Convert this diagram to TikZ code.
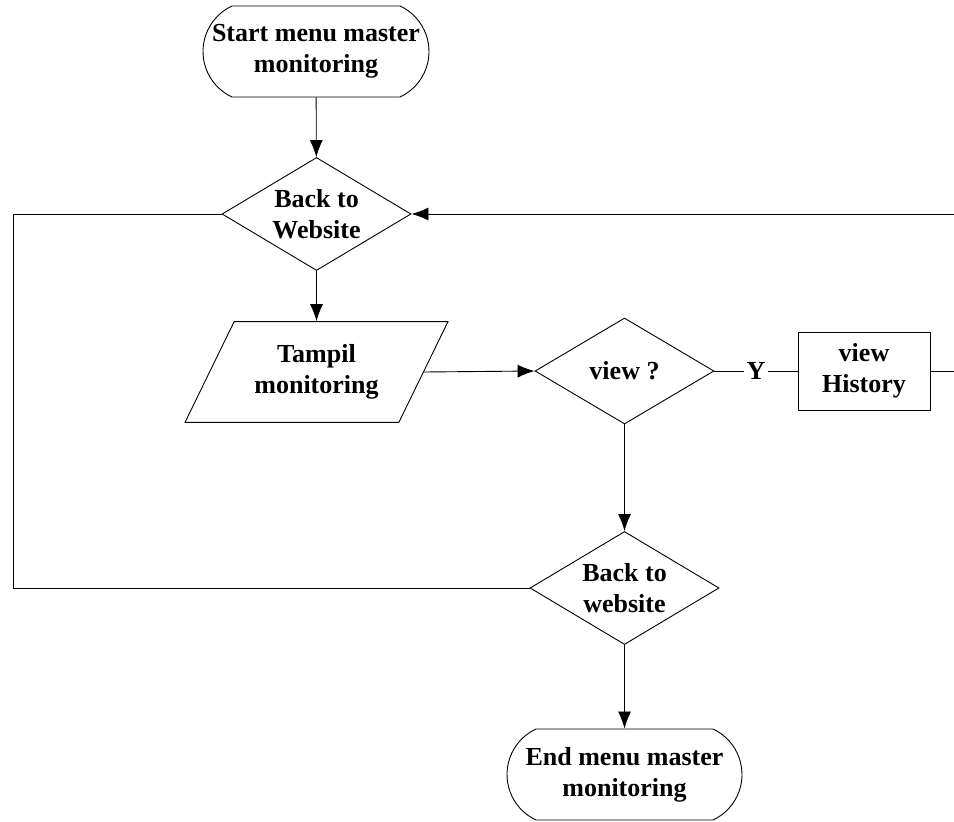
\documentclass[tikz,border=0pt]{standalone}
\usepackage{fontspec}
\setmainfont{Liberation Serif}
\usetikzlibrary{shapes.geometric, shapes.misc, arrows.meta}

\begin{document}
\begin{tikzpicture}
 		[
 		x=1pt, y=-1pt,
 		font=\fontsize{26}{31}\selectfont\bfseries,
 		line width=0.9pt,
 		>={Latex[length=17pt,width=13pt]}
 		]
 		
 		% Node styles: terminal, decision, input/output and process
 		\tikzstyle{terminal}=[rounded rectangle, rounded rectangle arc length=130, draw, minimum height=91pt, align=center, inner sep=0];
 		\tikzstyle{decision}=[diamond, draw, inner sep=0, minimum width=189pt, minimum height=113pt];
 		\tikzstyle{io}=[trapezium, draw, trapezium left angle=64, trapezium right angle=116, trapezium stretches body, minimum width=263pt, align=center, inner xsep=0, inner ysep=23pt];
 		\tikzstyle{process}=[rectangle, draw, minimum width=132pt, minimum height=78pt, align=center, inner sep=0];
 		
 		\useasboundingbox (0,0) rectangle (954,822);
 		
 		% The flowchart
 		\node(start)[terminal, minimum width=226pt]at(316,51.5){Start menu master\\monitoring};
 		\node(back1)[decision, label={[align=center]center:Back to\\Website}]at(316.5,214){};
 		\node(tampil)[io]at(316.5,372){Tampil\\monitoring};
 		\node(view)[decision, minimum width=179pt, minimum height=106pt, label={center:view ?}]at(624.5,371){};
 		\node(hist)[process]at(864,371){view\\History};
 		\node(back2)[decision, label={[align=center]center:Back to\\website}]at(624.5,588){};
 		\node(end)[terminal, minimum width=235pt]at(624.5,774.5){End menu master\\monitoring};
 		
 		% Loose ends at the borders
 		\coordinate(exitR)at(954,371);
 		\coordinate(entryR)at(954,214);
 		\coordinate(loopL)at(13,588);
 		
 		% Connectors
 		\draw[->](start)--(back1);
 		\draw[->](back1)--(tampil);
 		\draw[->](tampil.east)--(view.west);
 		\draw(view.east)--node[fill=white, inner sep=3pt]{Y}(hist.west);
 		\draw(hist.east)--(exitR);
 		\draw[->](entryR)--(back1.east);
 		\draw(back1.west)-|(loopL)--(back2.west);
 		\draw[->](view)--(back2);
 		\draw[->](back2)--(end);
 		
 		\end{tikzpicture}
\end{document}
